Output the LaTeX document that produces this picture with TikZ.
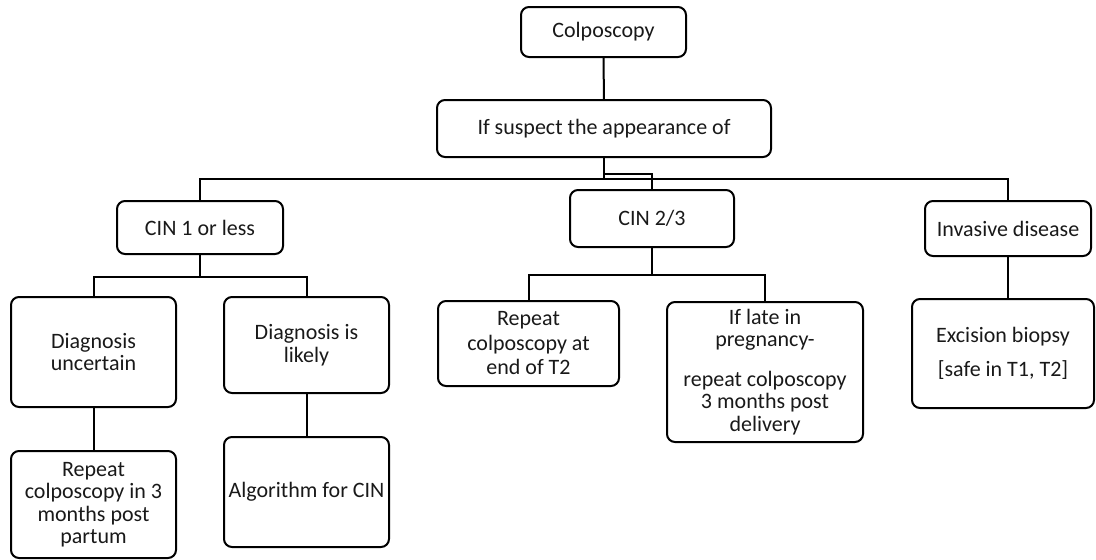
\documentclass[tikz,border=0pt]{standalone}
\usepackage{fontspec}
\setmainfont{Carlito}
\tikzset{box/.style={draw,line width=2pt,rounded corners=8pt,align=center,
        inner sep=2pt,text=black!90,font=\fontsize{22}{22.5}\selectfont},
    link/.style={line width=2pt}}
\begin{document}
\begin{tikzpicture}[x=1pt,y=-1pt]
      \useasboundingbox (0,0) rectangle (1096,560);
      \node[box,minimum width=165,minimum height=50] (colposcopy) at (603.5,32) {Colposcopy};
      \node[box,minimum width=334,minimum height=57] (suspect) at (604,128.5) {If suspect the appearance of};
      \node[box,minimum width=166,minimum height=53] (cin1) at (200,227.5) {CIN 1 or less};
      \node[box,minimum width=164,minimum height=57] (cin23) at (652,218.5) {CIN 2/3};
      \node[box,minimum width=166,minimum height=55] (invasive) at (1008,228.5) {Invasive disease};
      \node[box,minimum width=165,minimum height=110] (uncertain) at (93.5,352) {Diagnosis\\uncertain};
      \node[box,minimum width=165,minimum height=96] (likely) at (306.5,345) {Diagnosis is\\likely};
      \node[box,minimum width=165,minimum height=107] (postpartum) at (93.5,504.5) {Repeat\\colposcopy in 3\\months post\\partum};
      \node[box,minimum width=165,minimum height=110] (algorithm) at (306.5,492) {Algorithm for CIN};
      \node[box,minimum width=181,minimum height=85] (endT2) at (528.5,343.5) {Repeat\\[2pt]colposcopy at\\[2pt]end of T2};
      \node[box,minimum width=196,minimum height=140] (late) at (765,372) {If late in\\pregnancy-\\[17pt]repeat colposcopy\\3 months post\\delivery};
      \node[box,minimum width=182,minimum height=109] (excision) at (1003,353.5) {Excision biopsy\\[11pt][safe in T1, T2]};
      \coordinate (bus) at (604,179);
      \draw[link] (colposcopy) -- (suspect);
      \draw[link] (suspect.south) -- (bus);
      \draw[link] (cin1.north) -- (cin1.north |- bus) -- (invasive.north |- bus) -- (invasive.north);
      \draw[link] (suspect.south) -- ++(0,16) -| (cin23.north);
      \draw[link] (cin1.south) -- ++(0,22) -| (uncertain.north);
      \draw[link] (cin1.south) ++(0,22) -| (likely.north);
      \draw[link] (uncertain) -- (postpartum);
      \draw[link] (likely) -- (algorithm);
      \draw[link] (cin23.south) -- ++(0,26.5) -| (endT2.north);
      \draw[link] (cin23.south) ++(0,26.5) -| (late.north);
      \draw[link] (invasive) -- (excision.north -| invasive);
\end{tikzpicture}
\end{document}
